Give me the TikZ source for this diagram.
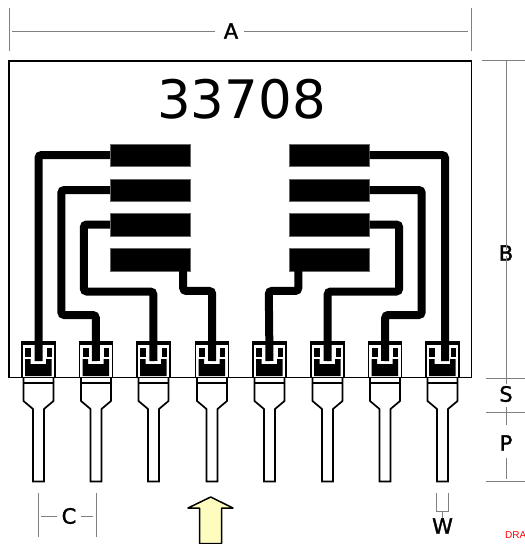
\documentclass[tikz,border=0pt]{standalone}
\usepackage{fontspec}
\setmainfont{DejaVu Sans}
\newfontfamily\dimfont[FakeBold=1.5]{DejaVu Sans}
\newfontfamily\notefont{Liberation Sans}
\usetikzlibrary{positioning}

\begin{document}
\begin{tikzpicture}[
    x=1pt, y=-1pt,
    outline/.style={draw=black, line width=1.7pt},
    padbox/.style={rectangle, fill=black, draw=black!60, line width=0.4pt, minimum width=80pt, minimum height=22.5pt, inner sep=0pt},
    trace/.style={draw=black, line width=8pt, rounded corners=3pt},
    dimline/.style={draw=black!50, line width=1pt},
    dimtext/.style={font=\dimfont\fontsize{21}{21}\selectfont, inner sep=0pt},
]
\useasboundingbox (0,0) rectangle (525,544);

% Pads on the left and right
\foreach \row/\ypos in {1/155, 2/190, 3/224.5, 4/259.5} {
    \node[padbox] (padL\row) at (150,\ypos) {};
    \node[padbox] (padR\row) at (329.5,\ypos) {};
}

% Pin footprints and leads
\foreach \xpos in {38.5, 96, 153.5, 212, 269.5, 327.5, 385, 442.5} {
\begin{scope}[shift={(\xpos,0)}]
    \fill[black] (-17.5,340.5) rectangle (17,377);
    \fill[white] (-16,345) rectangle (15.5,377);
    \fill[black] (-13.5,347.5) rectangle (-7.5,357);
    \fill[black] (8,347.5) rectangle (13,357);
    \fill[black] (-13.5,359) -- (-8,359) -- (-8,364) -- (7.5,364) -- (7.5,359) -- (13,359) -- (13,376) -- (-13.5,376) -- cycle;
    \draw[outline] (-15,378) -- (-15,401) -- (-5.5,409) -- (-5.5,481.5) -- (5.5,481.5) -- (5.5,409) -- (15,401) -- (15,378);
    \draw[outline] (-15,383) -- (15,383);
\end{scope}
}

% Pin anchors
\foreach \num/\xpos in {1/38.5, 2/96, 3/153.5, 4/212, 5/269.5, 6/327.5, 7/385, 8/445} {
    \coordinate (pin\num) at (\xpos,361);
}

% Traces from pads to pins
\draw[trace] (padL1.west) -| (pin1);
\draw[trace] (padL2.west) -- ++(-48.5,0) |- ++(34.5,125) -- (pin2);
\draw[trace] (padL3.west) -- ++(-26,0) |- ++(69.5,67) -- (pin3);
\draw[trace] ([xshift=-7pt]padL4.south east) |- ++(29,20) -- (pin4);
\draw[trace] ([xshift=9pt]padR4.south west) |- ++(-29.5,20) -- (pin5);
\draw[trace] (padR3.east) -- ++(29.5,0) |- ++(-71.5,67) -- (pin6);
\draw[trace] (padR2.east) -- ++(52,0) |- ++(-36.5,125) -- (pin7);
\draw[trace] (padR1.east) -| (pin8);

% Package body
\draw[outline] (9,61) rectangle (471.5,377.5);
\node[font=\fontsize{53}{53}\selectfont, inner sep=0pt] (partno) at (241.5,99.5) {33708};

% Width A
\node[dimtext] (dimA) at (231,31) {A};
\coordinate (aleft) at (12,31);
\coordinate (aright) at (468,31);
\draw[dimline] (9,8) -- (9,51);
\draw[dimline] (471,8) -- (471,51);
\draw[dimline] (aleft) -- ([xshift=-9pt]dimA.west);
\draw[dimline] ([xshift=6pt]dimA.east) -- (aright);

% Heights B, S, P
\node[dimtext] (dimB) at (506,253) {B};
\node[dimtext] (dimS) at (506,394) {S};
\node[dimtext] (dimP) at (506,443) {P};
\draw[dimline] (482,60) -- (525,60);
\draw[dimline] (486,378) -- (525,378);
\draw[dimline] (486,412) -- (525,412);
\draw[dimline] (486,481.5) -- (525,481.5);
\draw[dimline] (506,60) -- ([yshift=-5pt]dimB.north);
\draw[dimline] ([yshift=5pt]dimB.south) -- (506,384);
\draw[dimline] (506,407) -- (506,425);
\draw[dimline] (506,458) -- (506,479);

% Pitch C
\node[dimtext] (dimC) at (69,516) {C};
\draw[dimline] (38,493) -- (38,537);
\draw[dimline] (96,493) -- (96,537);
\draw[dimline] (41,516) -- ([xshift=-4pt]dimC.west);
\draw[dimline] ([xshift=4pt]dimC.east) -- (93,516);

% Lead width W
\node[dimtext] (dimW) at (442.5,526) {W};
\draw[dimline, line width=0.7pt] (436.5,493) -- (436.5,511) -- (448.5,511) -- (448.5,493);
\draw[dimline, line width=0.7pt] (442.5,511) -- (dimW.north);

% Arrow
\draw[line width=1.5pt, fill=yellow!25, line join=round] (210.7,497) -- (233,508) -- (221.5,508) -- (221.5,543.5) -- (199.5,543.5) -- (199.5,508) -- (188,508) -- cycle;

\node[font=\notefont\fontsize{10}{10}\selectfont, text=red, anchor=west, inner sep=0pt] (note) at (505,535.5) {DRA};
\end{tikzpicture}
\end{document}
